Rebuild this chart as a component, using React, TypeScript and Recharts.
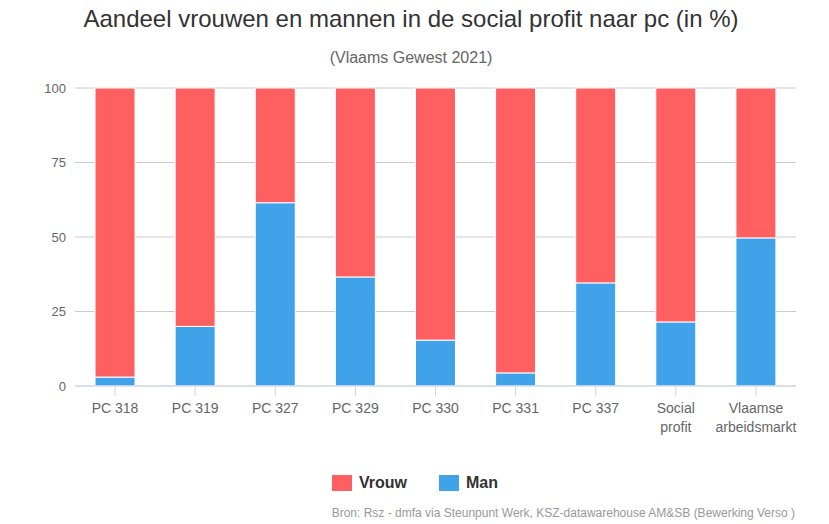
import React from "react";
import { BarChart, Bar, XAxis, YAxis, CartesianGrid, Text } from "recharts";

const categories = ["PC 318", "PC 319", "PC 327", "PC 329", "PC 330", "PC 331", "PC 337", "Social profit", "Vlaamse arbeidsmarkt"];
const man = [3, 20, 61.5, 36.6, 15.4, 4.4, 34.6, 21.5, 49.7];
const vrouw = [97, 80, 38.5, 63.4, 84.6, 95.6, 65.4, 78.5, 50.3];
const yTicks = [0, 25, 50, 75, 100];

const RED = "#fe6062";
const BLUE = "#40a3ea";
const FONT = "'Liberation Sans', Arial, sans-serif";

const data = categories.map((c, i) => ({ name: c, Man: man[i], Vrouw: vrouw[i] }));

function XTick(props: any) {
  const { x, y, payload } = props;
  return (
    <Text x={x} y={y + 5} width={70} textAnchor="middle" verticalAnchor="start"
      fontSize={14} fill="#666" fontFamily={FONT} lineHeight={19}>
      {payload.value}
    </Text>
  );
}

export default function App() {
  return (
    <div style={{ position: "absolute", left: 0, top: 0, width: 829, height: 524, background: "#fff", fontFamily: FONT }}>
      <div style={{ position: "absolute", top: 5, left: 0, width: 822, textAlign: "center", fontSize: 24, color: "#333" }}>
        Aandeel vrouwen en mannen in de social profit naar pc (in %)
      </div>
      <div style={{ position: "absolute", top: 49, left: 0, width: 822, textAlign: "center", fontSize: 16, color: "#666" }}>
        (Vlaams Gewest 2021)
      </div>
      <BarChart width={829} height={524} data={data} barCategoryGap="25%"
        margin={{ top: 88, right: 33, bottom: 108, left: 15 }}>
        <CartesianGrid vertical={false} stroke="#cccccc" />
        <XAxis dataKey="name" interval={0} tick={<XTick />} tickSize={10}
          axisLine={{ stroke: "#ccd6eb", strokeWidth: 1 }} tickLine={{ stroke: "#ccd6eb" }} />
        <YAxis domain={[0, 100]} ticks={yTicks} width={60} axisLine={false} tickLine={false}
          tickSize={0} tickMargin={9} tick={{ fontSize: 13, fill: "#666", fontFamily: FONT }} />
        <Bar dataKey="Man" stackId="a" fill={BLUE} stroke="#fff" strokeWidth={1} isAnimationActive={false} />
        <Bar dataKey="Vrouw" stackId="a" fill={RED} stroke="#fff" strokeWidth={1} isAnimationActive={false} />
      </BarChart>
      <div style={{ position: "absolute", top: 474, left: 332, display: "flex", alignItems: "center", fontSize: 16, fontWeight: "bold", color: "#333" }}>
        <span style={{ width: 20, height: 16, background: RED, display: "inline-block", marginRight: 7 }} />
        <span>Vrouw</span>
        <span style={{ width: 20, height: 16, background: BLUE, display: "inline-block", marginLeft: 32, marginRight: 7 }} />
        <span>Man</span>
      </div>
      <div style={{ position: "absolute", top: 506, right: 34, fontSize: 12, color: "#999" }}>
        Bron: Rsz - dmfa via Steunpunt Werk, KSZ-datawarehouse AM&amp;SB (Bewerking Verso )
      </div>
    </div>
  );
}
